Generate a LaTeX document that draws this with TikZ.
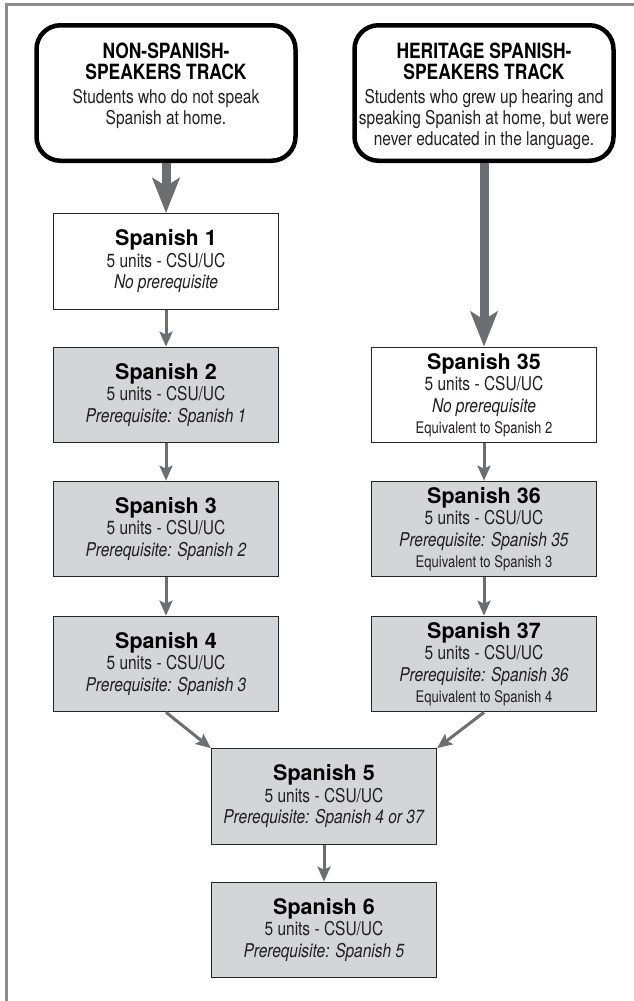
\documentclass[tikz,border=0pt]{standalone}
\usepackage{fontspec}
\setmainfont{TeX Gyre Heros}
\newfontfamily\condfont[FakeStretch=0.815]{TeX Gyre Heros}
\newfontfamily\headfont[FakeStretch=0.83]{TeX Gyre Heros}
\newfontfamily\titlefamily{TeX Gyre Heros}
\usetikzlibrary{arrows.meta}
\definecolor{framegray}{RGB}{140,140,140}
\definecolor{arrowgray}{RGB}{109,110,113}
\definecolor{boxgray}{RGB}{212,213,215}
\definecolor{textgray}{RGB}{35,31,32}
\newcommand{\coursetitle}[1]{{\titlefamily\bfseries\fontsize{21.5}{21.5}\selectfont\color{black}#1}}
\newcommand{\trackname}[1]{{\headfont\bfseries\fontsize{21}{21}\selectfont\color{black}#1}}
\newcommand{\equivline}[1]{{\fontsize{16}{21.5}\selectfont #1}}

\begin{document}
\begin{tikzpicture}[x=1pt,y=-1pt,
  track/.style={draw=black, line width=4.5pt, rounded corners=24pt, fill=white,
    minimum width=259pt, minimum height=135.5pt},
  trackhead/.style={anchor=north, inner sep=0pt, align=center, text=textgray,
    font=\condfont\fontsize{19}{21}\selectfont},
  course/.style={draw=black!85, line width=1.2pt, fill=boxgray, inner sep=0pt,
    minimum width=225pt, minimum height=95.5pt, align=center, text=textgray,
    font=\condfont\fontsize{19}{21.5}\selectfont},
  newcourse/.style={course, fill=white},
  link/.style={draw=arrowgray, line width=3pt, -{Stealth[length=15pt,width=13pt,inset=3pt]}},
  biglink/.style={draw=arrowgray, line width=9pt, -{Stealth[length=35pt,width=27pt,inset=8pt]}}
]
\useasboundingbox (0,0) rectangle (634,1001);

% frame on top and left
\draw[framegray, line width=3pt] (6.7,1001) -- (6.7,4.7) -- (634,4.7);

% the two tracks
\node[track] (nonbox) at (166,93) {};
\node[trackhead] (nonhead) at (166,43) {\trackname{NON-SPANISH-}\\
  \trackname{SPEAKERS TRACK}\\[3pt]
  Students who do not speak\\ Spanish at home.};
\node[track] (herbox) at (484,93) {};
\node[trackhead] (herhead) at (484,43) {\trackname{HERITAGE SPANISH-}\\
  \trackname{SPEAKERS TRACK}\\[3pt]
  Students who grew up hearing and\\ speaking Spanish at home, but were\\
  never educated in the language.};

% non-speakers column
\node[newcourse] (sp1) at (166,261.5) {\coursetitle{Spanish 1}\\ 5 units - CSU/UC\\ \textit{No prerequisite}};
\node[course] (sp2) at (166,395) {\coursetitle{Spanish 2}\\ 5 units - CSU/UC\\ \textit{Prerequisite: Spanish 1}};
\node[course] (sp3) at (166,529) {\coursetitle{Spanish 3}\\ 5 units - CSU/UC\\ \textit{Prerequisite: Spanish 2}};
\node[course] (sp4) at (166,664) {\coursetitle{Spanish 4}\\ 5 units - CSU/UC\\ \textit{Prerequisite: Spanish 3}};

% heritage column
\node[newcourse] (sp35) at (484,395) {\coursetitle{Spanish 35}\\ 5 units - CSU/UC\\ \textit{No prerequisite}\\ \equivline{Equivalent to Spanish 2}};
\node[course] (sp36) at (484,529) {\coursetitle{Spanish 36}\\ 5 units - CSU/UC\\ \textit{Prerequisite: Spanish 35}\\ \equivline{Equivalent to Spanish 3}};
\node[course] (sp37) at (484,664) {\coursetitle{Spanish 37}\\ 5 units - CSU/UC\\ \textit{Prerequisite: Spanish 36}\\ \equivline{Equivalent to Spanish 4}};

% joined
\node[course] (sp5) at (324,796.5) {\coursetitle{Spanish 5}\\ 5 units - CSU/UC\\ \textit{Prerequisite: Spanish 4 or 37}};
\node[course] (sp6) at (324,930) {\coursetitle{Spanish 6}\\ 5 units - CSU/UC\\ \textit{Prerequisite: Spanish 5}};

\draw[biglink] (nonbox) -- (sp1);
\draw[biglink] (herbox) -- (sp35);
\draw[link] (sp1) -- (sp2);
\draw[link] (sp2) -- (sp3);
\draw[link] (sp3) -- (sp4);
\draw[link] (sp35) -- (sp36);
\draw[link] (sp36) -- (sp37);
\draw[link] (sp4.south) -- (sp5.north west);
\draw[link] (sp37.south) -- (sp5.north east);
\draw[link] (sp5) -- (sp6);
\end{tikzpicture}
\end{document}
